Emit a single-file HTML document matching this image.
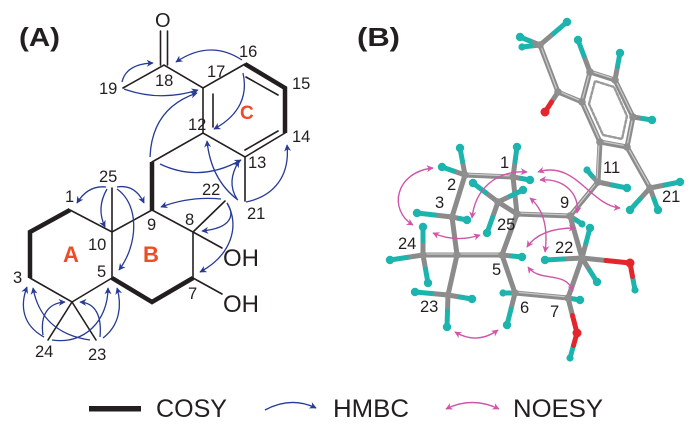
<!DOCTYPE html>
<html><head><meta charset="utf-8"><style>
html,body{margin:0;padding:0;background:#fff;}
svg{display:block;}
text{font-family:"Liberation Sans",Arial,sans-serif;fill:#231f20;}
</style></head><body>
<svg width="700" height="436" viewBox="0 0 700 436" xmlns="http://www.w3.org/2000/svg">
<defs>
<marker id="hb" viewBox="0 0 10 10" refX="9" refY="5" markerWidth="8" markerHeight="7" orient="auto" markerUnits="userSpaceOnUse"><path d="M0,0 L10,5 L0,10 L3,5 z" fill="#263a96"/></marker>
<marker id="nm" viewBox="0 0 10 10" refX="9" refY="5" markerWidth="8" markerHeight="7" orient="auto-start-reverse" markerUnits="userSpaceOnUse"><path d="M0,0 L10,5 L0,10 L3,5 z" fill="#cf56a8"/></marker>
</defs>
<rect width="700" height="436" fill="#fff"/>

<g stroke="#231f20" stroke-width="1.6" fill="none" stroke-linecap="round">
<line x1="160.5" y1="31" x2="160.5" y2="65"/>
<line x1="167.5" y1="31" x2="167.5" y2="65"/>
<polyline points="123,88 164,65 203,88 245,64"/>
<line x1="203" y1="88" x2="203" y2="133"/>
<line x1="213" y1="94" x2="213" y2="127"/>
<polyline points="285,133 245,157 203,133 152,162"/>
<line x1="246" y1="77" x2="278" y2="95"/>
<line x1="245" y1="150" x2="278" y2="131"/>
<line x1="245" y1="157" x2="245" y2="201"/>
<polyline points="152,210 193,232 193,278"/>
<line x1="193" y1="232" x2="225" y2="201"/>
<line x1="193" y1="232" x2="222" y2="248"/>
<line x1="193" y1="278" x2="222" y2="294"/>
<polyline points="70,210 112,232 152,210"/>
<line x1="112" y1="188" x2="112" y2="278"/>
<polyline points="30,278 72,302 112,278"/>
<line x1="72" y1="302" x2="48" y2="340"/>
<line x1="72" y1="302" x2="96" y2="340"/>
</g>
<g stroke="#231f20" stroke-width="4.5" fill="none">
<polyline points="245,64 285,88 285,133"/>
<line x1="152" y1="162" x2="152" y2="210"/>
<polyline points="70,210 30,232 30,278"/>
<polyline points="112,278 152,302 193,278"/>
</g>

<g stroke="#263a96" stroke-width="1.3" fill="none" marker-end="url(#hb)">
<path d="M122,82 Q126,64 153,63"/>
<path d="M124,89 Q160,102 198,90"/>
<path d="M242,60 Q210,39 176,62"/>
<path d="M243,73 C248,95 240,115 214,129"/>
<path d="M150,157 Q152,108 197,93"/>
<path d="M160,164 Q200,183 241,160"/>
<path d="M238,200 C222,188 210,170 207,141"/>
<path d="M237,199 Q226,182 239,161"/>
<path d="M246,202 C275,196 290,175 287,145"/>
<path d="M221,199 Q190,196 161,207"/>
<path d="M227,203 C235,215 232,228 202,231"/>
<path d="M227,203 C240,225 232,255 200,272"/>
<path d="M106,187 Q88,185 77,203"/>
<path d="M107,189 Q96,208 105,227"/>
<path d="M117,187 Q135,184 144,203"/>
<path d="M117,189 C140,205 138,245 119,270"/>
<path d="M44,337 C22,325 20,305 27,287"/>
<path d="M90,340 C55,335 38,315 33,288"/>
<path d="M43,335 C40,315 48,303 65,302"/>
<path d="M100,337 C102,315 95,303 80,302"/>
<path d="M52,340 C85,345 108,320 108,288"/>
<path d="M103,338 C120,325 122,305 117,288"/>
</g>

<g font-size="16.5">
<text x="155" y="27" font-size="20">O</text>
<text x="239" y="57">16</text>
<text x="207" y="77">17</text>
<text x="155" y="86">18</text>
<text x="99" y="94">19</text>
<text x="292" y="89">15</text>
<text x="292" y="142">14</text>
<text x="188" y="130">12</text>
<text x="248" y="168">13</text>
<text x="99" y="182">25</text>
<text x="202" y="195">22</text>
<text x="247" y="219">21</text>
<text x="65" y="202">1</text>
<text x="88" y="250">10</text>
<text x="147" y="230">9</text>
<text x="185" y="225">8</text>
<text x="97" y="277">5</text>
<text x="13" y="283">3</text>
<text x="188" y="299">7</text>
<text x="35" y="357">24</text>
<text x="88" y="360">23</text>
<text x="223" y="266" font-size="24">OH</text>
<text x="223" y="312" font-size="24">OH</text>
</g>
<text x="240" y="119" font-size="19" font-weight="bold" style="fill:#ee4b26">C</text>
<text x="63" y="262" font-size="22" font-weight="bold" style="fill:#ee4b26">A</text>
<text x="143" y="262" font-size="22" font-weight="bold" style="fill:#ee4b26">B</text>
<text x="19" y="46" font-size="26" font-weight="bold" textLength="41" lengthAdjust="spacingAndGlyphs">(A)</text>
<text x="357" y="46" font-size="26" font-weight="bold" textLength="43" lengthAdjust="spacingAndGlyphs">(B)</text>

<g stroke-linecap="round" fill="none">
<g stroke="#8b8b8b" stroke-width="5">
<line x1="540" y1="45" x2="558" y2="92"/>
<line x1="558" y1="92" x2="551.5" y2="102"/>
<line x1="558" y1="92" x2="582" y2="102"/>
<polygon points="582,102 590,72 615,80 633,117 627,147 600,142"/>
<line x1="600" y1="142" x2="598" y2="182"/>
<line x1="627" y1="147" x2="650" y2="188"/>
<line x1="598" y1="182" x2="570" y2="216"/>
<line x1="570" y1="216" x2="517" y2="214"/>
<line x1="570" y1="216" x2="582" y2="258"/>
<line x1="517" y1="214" x2="513" y2="177"/>
<line x1="517" y1="214" x2="498" y2="202"/>
<line x1="517" y1="214" x2="502" y2="255"/>
<line x1="513" y1="177" x2="465" y2="175"/>
<line x1="465" y1="175" x2="452" y2="217"/>
<line x1="452" y1="217" x2="457" y2="255"/>
<line x1="457" y1="255" x2="423" y2="255"/>
<line x1="457" y1="255" x2="448" y2="295"/>
<line x1="457" y1="255" x2="502" y2="255"/>
<line x1="502" y1="255" x2="515" y2="293"/>
<line x1="515" y1="293" x2="568" y2="298"/>
<line x1="568" y1="298" x2="582" y2="258"/>
<line x1="582" y1="258" x2="606" y2="260.5"/>
<line x1="568" y1="298" x2="572.5" y2="315.5"/>
<line x1="540" y1="45" x2="553.5" y2="33.5"/>
<line x1="540" y1="45" x2="530" y2="41"/>
<line x1="540" y1="45" x2="531" y2="46"/>
<line x1="590" y1="72" x2="584" y2="56"/>
<line x1="615" y1="80" x2="617.5" y2="66.5"/>
<line x1="633" y1="117" x2="642.5" y2="118.5"/>
<line x1="598" y1="182" x2="612" y2="185"/>
<line x1="598" y1="182" x2="592" y2="176"/>
<line x1="650" y1="188" x2="665" y2="185"/>
<line x1="650" y1="188" x2="640" y2="199"/>
<line x1="650" y1="188" x2="654" y2="199"/>
<line x1="570" y1="216" x2="576" y2="220"/>
<line x1="513" y1="177" x2="515" y2="162"/>
<line x1="513" y1="177" x2="521.5" y2="178.5"/>
<line x1="465" y1="175" x2="462.5" y2="161.5"/>
<line x1="465" y1="175" x2="453.5" y2="171"/>
<line x1="498" y1="202" x2="510.5" y2="196"/>
<line x1="498" y1="202" x2="485.5" y2="192.5"/>
<line x1="498" y1="202" x2="492.5" y2="217.5"/>
<line x1="452" y1="217" x2="434.5" y2="215"/>
<line x1="452" y1="217" x2="459.5" y2="218.5"/>
<line x1="423" y1="255" x2="406.5" y2="257.5"/>
<line x1="423" y1="255" x2="423" y2="241"/>
<line x1="423" y1="255" x2="425.5" y2="269"/>
<line x1="448" y1="295" x2="431.5" y2="293.5"/>
<line x1="448" y1="295" x2="460" y2="297"/>
<line x1="448" y1="295" x2="447.5" y2="311"/>
<line x1="502" y1="255" x2="512" y2="256"/>
<line x1="515" y1="293" x2="509" y2="293"/>
<line x1="515" y1="293" x2="511" y2="309"/>
<line x1="568" y1="298" x2="574" y2="299"/>
<line x1="582" y1="258" x2="586" y2="243"/>
<line x1="582" y1="258" x2="563.5" y2="259"/>
<line x1="582" y1="258" x2="589.5" y2="270"/>
</g>
<g stroke="#c9c9c9" stroke-width="1.3">
<line x1="540" y1="44" x2="557" y2="90"/>
<line x1="558" y1="91" x2="581" y2="101"/>
<polygon points="582,101 590,71 615,79 633,116 627,146 600,141"/>
<line x1="599" y1="142" x2="597" y2="181"/>
<line x1="627" y1="146" x2="650" y2="187"/>
<line x1="598" y1="181" x2="570" y2="215"/>
<line x1="570" y1="215" x2="517" y2="213"/>
<line x1="513" y1="176" x2="465" y2="174"/>
<line x1="457" y1="254" x2="502" y2="254"/>
<line x1="515" y1="292" x2="568" y2="297"/>
<line x1="457" y1="254" x2="423" y2="254"/>
</g>
<polygon points="589,104 595,81 614,87 627,116 622,139 603,135" stroke="#9a9a9a" stroke-width="2.4" stroke-dasharray="3,2"/>
<g stroke="#1db4ae" stroke-width="5">
<line x1="553.5" y1="33.5" x2="567" y2="22"/>
<line x1="530" y1="41" x2="520" y2="37"/>
<line x1="531" y1="46" x2="522" y2="47"/>
<line x1="584" y1="56" x2="578" y2="40"/>
<line x1="617.5" y1="66.5" x2="620" y2="53"/>
<line x1="642.5" y1="118.5" x2="652" y2="120"/>
<line x1="612" y1="185" x2="627" y2="188"/>
<line x1="592" y1="176" x2="587" y2="170"/>
<line x1="665" y1="185" x2="680" y2="182"/>
<line x1="640" y1="199" x2="630" y2="210"/>
<line x1="654" y1="199" x2="658" y2="210"/>
<line x1="576" y1="220" x2="582" y2="224"/>
<line x1="515" y1="162" x2="517" y2="147"/>
<line x1="521.5" y1="178.5" x2="530" y2="180"/>
<line x1="462.5" y1="161.5" x2="460" y2="148"/>
<line x1="453.5" y1="171" x2="442" y2="167"/>
<line x1="510.5" y1="196" x2="523" y2="190"/>
<line x1="485.5" y1="192.5" x2="473" y2="183"/>
<line x1="492.5" y1="217.5" x2="487" y2="233"/>
<line x1="434.5" y1="215" x2="417" y2="213"/>
<line x1="459.5" y1="218.5" x2="467" y2="220"/>
<line x1="406.5" y1="257.5" x2="390" y2="260"/>
<line x1="423" y1="241" x2="423" y2="227"/>
<line x1="425.5" y1="269" x2="428" y2="283"/>
<line x1="431.5" y1="293.5" x2="415" y2="292"/>
<line x1="460" y1="297" x2="472" y2="299"/>
<line x1="447.5" y1="311" x2="447" y2="327"/>
<line x1="512" y1="256" x2="522" y2="257"/>
<line x1="509" y1="293" x2="503" y2="293"/>
<line x1="511" y1="309" x2="507" y2="325"/>
<line x1="574" y1="299" x2="580" y2="300"/>
<line x1="586" y1="243" x2="590" y2="228"/>
<line x1="563.5" y1="259" x2="545" y2="260"/>
<line x1="589.5" y1="270" x2="597" y2="282"/>
<line x1="632.5" y1="276.5" x2="635" y2="290"/>
<line x1="573.5" y1="345.5" x2="570" y2="358"/>
</g>
<g stroke="#e3262b" stroke-width="5">
<line x1="551.5" y1="102" x2="545" y2="112"/>
<line x1="606" y1="260.5" x2="630" y2="263"/>
<line x1="630" y1="263" x2="632.5" y2="276.5"/>
<line x1="572.5" y1="315.5" x2="577" y2="333"/>
<line x1="577" y1="333" x2="573.5" y2="345.5"/>
</g>
</g>
<g fill="#8f8f8f">
<circle cx="540" cy="45" r="3.8"/><circle cx="558" cy="92" r="3.8"/><circle cx="582" cy="102" r="3.8"/>
<circle cx="590" cy="72" r="3.8"/><circle cx="615" cy="80" r="3.8"/><circle cx="633" cy="117" r="3.8"/>
<circle cx="627" cy="147" r="3.8"/><circle cx="600" cy="142" r="3.8"/><circle cx="598" cy="182" r="3.8"/>
<circle cx="650" cy="188" r="3.8"/><circle cx="570" cy="216" r="3.8"/><circle cx="517" cy="214" r="3.8"/>
<circle cx="498" cy="202" r="3.8"/><circle cx="513" cy="177" r="3.8"/><circle cx="465" cy="175" r="3.8"/>
<circle cx="452" cy="217" r="3.8"/><circle cx="457" cy="255" r="3.8"/><circle cx="423" cy="255" r="3.8"/>
<circle cx="502" cy="255" r="3.8"/><circle cx="448" cy="295" r="3.8"/><circle cx="515" cy="293" r="3.8"/>
<circle cx="568" cy="298" r="3.8"/><circle cx="582" cy="258" r="3.8"/>
</g>
<g fill="#1db4ae">
<circle cx="567" cy="22" r="4.2"/><circle cx="520" cy="37" r="4.2"/><circle cx="522" cy="47" r="3.6"/>
<circle cx="578" cy="40" r="4.2"/><circle cx="620" cy="53" r="4.2"/><circle cx="652" cy="120" r="4.2"/>
<circle cx="627" cy="188" r="4.2"/><circle cx="587" cy="170" r="3.6"/><circle cx="680" cy="182" r="4.2"/>
<circle cx="630" cy="210" r="4.2"/><circle cx="658" cy="210" r="4.2"/><circle cx="582" cy="224" r="3.6"/>
<circle cx="517" cy="147" r="4.2"/><circle cx="530" cy="180" r="4.2"/><circle cx="460" cy="148" r="4.2"/>
<circle cx="442" cy="167" r="4.2"/><circle cx="523" cy="190" r="4.2"/><circle cx="473" cy="183" r="4.2"/>
<circle cx="487" cy="233" r="4.2"/><circle cx="417" cy="213" r="4.2"/><circle cx="467" cy="220" r="4.2"/>
<circle cx="390" cy="260" r="4.2"/><circle cx="423" cy="227" r="4.2"/><circle cx="428" cy="283" r="4.2"/>
<circle cx="415" cy="292" r="4.2"/><circle cx="472" cy="299" r="4.2"/><circle cx="447" cy="327" r="4.2"/>
<circle cx="522" cy="257" r="4.2"/><circle cx="503" cy="293" r="3.6"/><circle cx="507" cy="325" r="4.2"/>
<circle cx="580" cy="300" r="4.2"/><circle cx="590" cy="228" r="4.2"/><circle cx="545" cy="260" r="4.2"/>
<circle cx="597" cy="282" r="4.2"/><circle cx="635" cy="290" r="3.6"/><circle cx="570" cy="358" r="3.6"/>
</g>
<g fill="#e3262b">
<circle cx="545" cy="112" r="4.5"/><circle cx="630" cy="263" r="4.5"/><circle cx="577" cy="333" r="4.5"/>
</g>

<g stroke="#cf56a8" stroke-width="1.4" fill="none" marker-start="url(#nm)" marker-end="url(#nm)">
<path d="M433,168 C395,172 388,210 413,225"/>
<path d="M472,218 C475,190 495,170 527,172"/>
<path d="M433,233 Q456,243 480,235"/>
<path d="M538,172 C575,160 590,205 620,208"/>
<path d="M540,180 C565,178 580,195 577,213"/>
<path d="M530,198 Q550,215 545,252"/>
<path d="M527,247 Q540,228 575,228"/>
<path d="M528,267 C540,283 565,270 573,291"/>
<path d="M455,332 Q477,345 498,330"/>
</g>

<g font-size="16.5">
<text x="500" y="168">1</text>
<text x="447" y="190">2</text>
<text x="435" y="208">3</text>
<text x="603" y="173">11</text>
<text x="662" y="202">21</text>
<text x="560" y="208">9</text>
<text x="497" y="230">25</text>
<text x="398" y="249">24</text>
<text x="555" y="253">22</text>
<text x="492" y="275">5</text>
<text x="420" y="312">23</text>
<text x="520" y="313">6</text>
<text x="550" y="317">7</text>
</g>

<rect x="89" y="406" width="52" height="5.5" fill="#231f20"/>
<text x="156" y="417" font-size="25" textLength="71" lengthAdjust="spacingAndGlyphs">COSY</text>
<path d="M265,410 Q291,396 316,408" stroke="#263a96" stroke-width="1.4" fill="none" marker-end="url(#hb)"/>
<text x="333" y="417" font-size="25" textLength="76" lengthAdjust="spacingAndGlyphs">HMBC</text>
<path d="M446,409 Q472,396 499,409" stroke="#cf56a8" stroke-width="1.4" fill="none" marker-start="url(#nm)" marker-end="url(#nm)"/>
<text x="513" y="417" font-size="25" textLength="90" lengthAdjust="spacingAndGlyphs">NOESY</text>
</svg>
</body></html>
